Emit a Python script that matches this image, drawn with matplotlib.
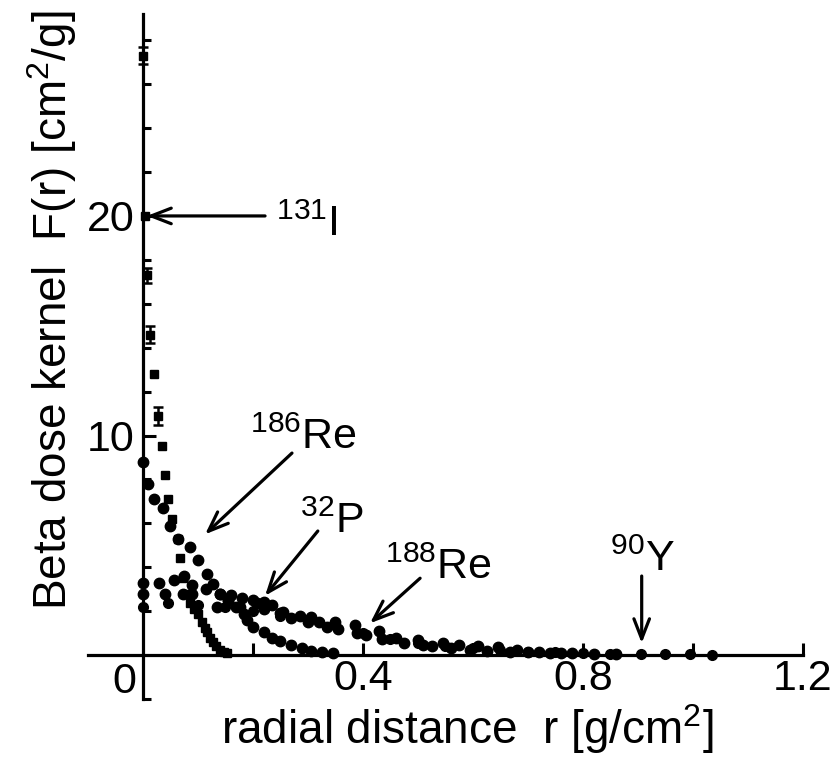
import matplotlib.pyplot as plt
import numpy as np

plt.rcParams['font.family'] = ['Liberation Sans', 'DejaVu Sans']
plt.rcParams['mathtext.fontset'] = 'custom'
plt.rcParams['mathtext.rm'] = 'Liberation Sans'
plt.rcParams['mathtext.default'] = 'regular'

# values (r in g/cm^2, F in cm^2/g)
r_i131 = [0.000, 0.003, 0.007, 0.013, 0.020, 0.028, 0.035, 0.040, 0.045, 0.053,
          0.064, 0.068, 0.073, 0.078, 0.085, 0.092, 0.100, 0.107, 0.112, 0.116,
          0.122, 0.127, 0.133, 0.140, 0.147, 0.153]
f_i131 = [27.3, 20.0, 17.3, 14.6, 12.8, 10.9, 9.5, 8.2, 7.1, 6.2,
          5.3, 4.4, 3.5, 2.8, 2.35, 2.1, 1.85, 1.5, 1.25, 1.05,
          0.8, 0.6, 0.4, 0.22, 0.12, 0.08]
e_i131 = [0.4, 0.0, 0.35, 0.4, 0.0, 0.4, 0.0, 0.0, 0.0, 0.0,
          0.0, 0.0, 0.0, 0.0, 0.0, 0.0, 0.0, 0.0, 0.0, 0.0,
          0.0, 0.0, 0.0, 0.0, 0.0, 0.0]

r_re186 = [0.000, 0.010, 0.020, 0.036, 0.050, 0.064, 0.085, 0.100, 0.116, 0.127,
           0.140, 0.155, 0.170, 0.183, 0.190, 0.200, 0.220, 0.235, 0.250, 0.270,
           0.290, 0.305, 0.325, 0.345]
f_re186 = [8.8, 7.8, 7.1, 6.7, 5.9, 5.3, 4.9, 4.35, 3.7, 3.25,
           2.8, 2.5, 2.2, 1.85, 1.6, 1.3, 1.05, 0.8, 0.65, 0.45,
           0.3, 0.2, 0.12, 0.08]

r_p32 = [0.000, 0.030, 0.056, 0.075, 0.090, 0.115, 0.140, 0.160, 0.180, 0.200,
         0.220, 0.235, 0.255, 0.285, 0.305, 0.320, 0.350, 0.385, 0.430, 0.460,
         0.500, 0.545, 0.575, 0.610, 0.645, 0.680, 0.720, 0.760]
f_p32 = [3.3, 3.3, 3.4, 3.6, 3.2, 3.0, 2.8, 2.75, 2.6, 2.5,
         2.4, 2.3, 1.95, 1.8, 1.75, 1.5, 1.5, 1.35, 1.1, 0.8,
         0.7, 0.55, 0.45, 0.4, 0.35, 0.25, 0.15, 0.1]

r_re188 = [0.000, 0.040, 0.073, 0.090, 0.135, 0.155, 0.176, 0.207, 0.220, 0.250,
           0.270, 0.300, 0.335, 0.355, 0.390, 0.405, 0.435, 0.475, 0.510, 0.525,
           0.560, 0.595, 0.625, 0.667, 0.700, 0.740, 0.780, 0.820, 0.860]
f_re188 = [2.8, 2.8, 2.8, 2.8, 2.2, 2.5, 2.2, 2.35, 2.1, 1.9,
           1.7, 1.5, 1.3, 1.2, 1.0, 0.9, 0.75, 0.55, 0.45, 0.4,
           0.3, 0.25, 0.2, 0.15, 0.12, 0.1, 0.08, 0.06, 0.05]

r_y90 = [0.000, 0.045, 0.100, 0.150, 0.200, 0.250, 0.300, 0.350, 0.400, 0.450,
         0.500, 0.550, 0.600, 0.650, 0.700, 0.750, 0.800, 0.850, 0.905, 0.950,
         0.995, 1.035]
f_y90 = [2.2, 2.35, 2.3, 2.2, 2.0, 1.8, 1.6, 1.35, 1.0, 0.75,
         0.55, 0.42, 0.3, 0.22, 0.16, 0.12, 0.09, 0.06, 0.05, 0.04,
         0.03, 0.02]

# label text, text position (left, baseline), arrow tail, arrow head
labels = ["$^{131}$I", "$^{186}$Re", "$^{32}$P", "$^{188}$Re", "$^{90}$Y"]
label_xy = [(0.242, 19.1), (0.195, 9.4), (0.285, 5.55), (0.44, 3.48), (0.849, 3.85)]
arrow_from = [(0.222, 20.0), (0.271, 9.2), (0.318, 5.65), (0.504, 3.5), (0.907, 3.6)]
arrow_to = [(0.007, 20.0), (0.113, 5.5), (0.222, 2.7), (0.413, 1.45), (0.907, 0.54)]

fs = 31
fs_lab = 33

fig = plt.figure(figsize=(8.38, 7.62), dpi=100)
ax = fig.add_axes([0.105, 0.0827, 0.853, 0.899])

mk = dict(color='k', linestyle='none')
ax.plot(r_re186, f_re186, 'o', ms=7.5, **mk)
ax.plot(r_p32, f_p32, 'o', ms=7.5, **mk)
ax.plot(r_re188, f_re188, 'o', ms=7.5, **mk)
ax.plot(r_y90, f_y90, 'o', ms=7, **mk)
ax.plot(r_i131, f_i131, 's', ms=6, **mk)
r_arr, f_arr, e_arr = np.array(r_i131), np.array(f_i131), np.array(e_i131)
m = e_arr > 0
ax.errorbar(r_arr[m], f_arr[m], yerr=e_arr[m], fmt='none', ecolor='k',
            elinewidth=1.8, capsize=3.5, capthick=1.8)

for txt, pos, a, b in zip(labels, label_xy, arrow_from, arrow_to):
    ax.text(pos[0], pos[1], txt, fontsize=fs, ha='left', va='baseline')
    ax.annotate('', xy=b, xytext=a,
                arrowprops=dict(arrowstyle='->,head_length=0.9,head_width=0.35',
                                lw=2.3, color='k', shrinkA=0, shrinkB=0,
                                mutation_scale=16))

ax.set_xlim(-0.1, 1.2)
ax.set_ylim(-2, 29.2)
for s in ['top', 'right']:
    ax.spines[s].set_visible(False)
ax.spines['left'].set_position(('data', 0))
ax.spines['bottom'].set_position(('data', 0))
ax.spines['left'].set_linewidth(2.3)
ax.spines['bottom'].set_linewidth(2.3)

ax.set_xticks([0.4, 0.8, 1.2])
ax.set_xticklabels(['0.4', '0.8', '1.2'])
ax.set_xticks([0.2, 0.6, 1.0], minor=True)
ax.set_yticks([10, 20])
ax.set_yticks([-2, 2, 4, 6, 8, 12, 14, 16, 18, 22, 24, 26, 28], minor=True)
ax.tick_params(which='both', direction='in', width=2.2, labelsize=fs)
ax.tick_params(axis='x', which='both', length=9, pad=3)
ax.tick_params(axis='y', which='major', length=9, pad=6)
ax.tick_params(axis='y', which='minor', length=6)
ax.text(-0.012, -0.3, '0', fontsize=fs, ha='right', va='top')

fig.text(0.557, 0.024, 'radial distance  r [g/cm$^{2}$]', fontsize=fs_lab,
         ha='center', va='baseline')
fig.text(0.062, 0.593, 'Beta dose kernel  F(r) [cm$^{2}$/g]', fontsize=fs_lab,
         ha='center', va='center', rotation=90)

fig.savefig('out.png', dpi=100)
